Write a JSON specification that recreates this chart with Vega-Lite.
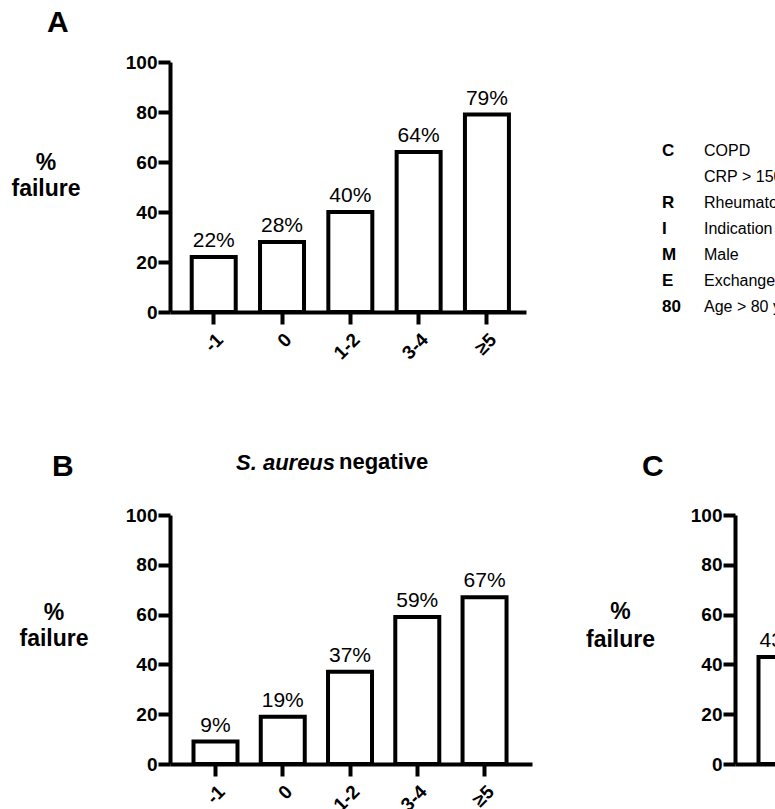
{
  "$schema": "https://vega.github.io/schema/vega-lite/v6.json",
  "padding": {"left": 10, "top": 8, "right": 0, "bottom": 0},
  "background": "white",
  "config": {
    "font": "Liberation Sans",
    "view": {"stroke": null},
    "axis": {
      "grid": false,
      "domainColor": "black",
      "domainWidth": 4,
      "tickColor": "black",
      "tickWidth": 4,
      "tickSize": 12,
      "labelColor": "black",
      "labelFont": "Liberation Sans",
      "labelFontWeight": "bold",
      "labelFontSize": 19,
      "titleColor": "black",
      "titleFont": "Liberation Sans"
    },
    "title": {"color": "black", "font": "Liberation Sans", "fontWeight": "bold"}
  },
  "datasets": {
    "A": [
      {"cat": "-1", "pct": 22, "label": "22%"},
      {"cat": "0", "pct": 28, "label": "28%"},
      {"cat": "1-2", "pct": 40, "label": "40%"},
      {"cat": "3-4", "pct": 64, "label": "64%"},
      {"cat": "≥5", "pct": 79, "label": "79%"}
    ],
    "B": [
      {"cat": "-1", "pct": 9, "label": "9%"},
      {"cat": "0", "pct": 19, "label": "19%"},
      {"cat": "1-2", "pct": 37, "label": "37%"},
      {"cat": "3-4", "pct": 59, "label": "59%"},
      {"cat": "≥5", "pct": 67, "label": "67%"}
    ],
    "C": [
      {"cat": "-1", "pct": 43, "label": "43%"}
    ],
    "legend": [
      {"line": 1, "key": "C", "desc": "COPD"},
      {"line": 2, "key": "", "desc": "CRP > 150 mg/L"},
      {"line": 3, "key": "R", "desc": "Rheumatoid arthritis"},
      {"line": 4, "key": "I", "desc": "Indication prosthesis: fracture"},
      {"line": 5, "key": "M", "desc": "Male"},
      {"line": 6, "key": "E", "desc": "Exchange of mobile components"},
      {"line": 7, "key": "80", "desc": "Age > 80 years"}
    ]
  },
  "spacing": 88,
  "vconcat": [
    {
      "spacing": 136,
      "hconcat": [
        {
          "title": {"text": "A", "anchor": "start", "frame": "group", "dx": -123, "fontSize": 30, "offset": 15},
          "width": 356,
          "height": 250,
          "data": {"name": "A"},
          "encoding": {
            "x": {
              "field": "cat", "type": "ordinal", "sort": null,
              "scale": {"domain": ["-1", "0", "1-2", "3-4", "≥5"], "paddingInner": 0.356, "paddingOuter": 0.284, "align": 0.56},
              "axis": {"title": null, "labelAngle": -45, "labelPadding": 6}
            },
            "y": {
              "field": "pct", "type": "quantitative",
              "scale": {"domain": [0, 100], "nice": false},
              "axis": {"values": [0, 20, 40, 60, 80, 100], "labelPadding": 1, "title": ["%", "failure"], "titleAngle": 0, "titleFontSize": 23, "titleFontWeight": "bold", "titleX": -124.5, "titleY": 100, "titleAlign": "center", "titleBaseline": "middle", "titleLineHeight": 26}
            }
          },
          "layer": [
            {"mark": {"type": "bar", "fill": "white", "stroke": "black", "strokeWidth": 4}},
            {"mark": {"type": "text", "baseline": "alphabetic", "dy": -10, "fontSize": 21, "color": "black"}, "encoding": {"text": {"field": "label"}}}
          ]
        },
        {
          "width": 42,
          "height": 250,
          "data": {"name": "legend"},
          "encoding": {
            "y": {"field": "line", "type": "quantitative", "scale": {"domain": [-2.42, 7.2], "reverse": true, "nice": false, "zero": false}, "axis": null}
          },
          "layer": [
            {
              "mark": {"type": "text", "align": "left", "baseline": "middle", "fontWeight": "bold", "fontSize": 17, "color": "black"},
              "encoding": {"x": {"datum": 0, "type": "quantitative", "scale": {"domain": [0, 1]}, "axis": null}, "text": {"field": "key"}}
            },
            {
              "mark": {"type": "text", "align": "left", "baseline": "middle", "fontSize": 16, "color": "black"},
              "encoding": {"x": {"datum": 1, "type": "quantitative", "scale": {"domain": [0, 1]}, "axis": null}, "text": {"field": "desc"}}
            }
          ]
        }
      ]
    },
    {
      "spacing": 53,
      "hconcat": [
        {
          "title": {"text": "B", "anchor": "start", "fontSize": 30, "dx": 33, "offset": -31},
          "vconcat": [
            {
              "title": {"text": "negative", "anchor": "start", "fontSize": 22, "dx": 320, "offset": -22},
              "vconcat": [
                {
                  "title": {"text": "S. aureus", "anchor": "start", "frame": "group", "dx": 66, "fontSize": 22, "fontStyle": "italic", "offset": 31},
                  "width": 362,
                  "height": 249,
                  "data": {"name": "B"},
                  "encoding": {
                    "x": {
                      "field": "cat", "type": "ordinal", "sort": null,
                      "scale": {"domain": ["-1", "0", "1-2", "3-4", "≥5"], "paddingInner": 0.346, "paddingOuter": 0.364, "align": 0.48},
                      "axis": {"title": null, "labelAngle": -45, "labelPadding": 6}
                    },
                    "y": {
                      "field": "pct", "type": "quantitative",
                      "scale": {"domain": [0, 100], "nice": false},
                      "axis": {"values": [0, 20, 40, 60, 80, 100], "labelPadding": 1, "title": ["%", "failure"], "titleAngle": 0, "titleFontSize": 23, "titleFontWeight": "bold", "titleX": -116.5, "titleY": 97, "titleAlign": "center", "titleBaseline": "middle", "titleLineHeight": 26}
                    }
                  },
                  "layer": [
                    {"mark": {"type": "bar", "fill": "white", "stroke": "black", "strokeWidth": 4}},
                    {"mark": {"type": "text", "baseline": "alphabetic", "dy": -10, "fontSize": 21, "color": "black"}, "encoding": {"text": {"field": "label"}}}
                  ]
                }
              ]
            }
          ]
        },
        {
          "title": {"text": "C", "anchor": "start", "frame": "group", "dx": -93, "fontSize": 30, "offset": 24},
          "width": 362,
          "height": 249,
          "data": {"name": "C"},
          "encoding": {
            "x": {
              "field": "cat", "type": "ordinal", "sort": null,
              "scale": {"domain": ["-1", "0", "1-2", "3-4", "≥5"], "paddingInner": 0.346, "paddingOuter": 0.364, "align": 0.48},
              "axis": {"title": null, "labelAngle": -45, "labelPadding": 6}
            },
            "y": {
              "field": "pct", "type": "quantitative",
              "scale": {"domain": [0, 100], "nice": false},
              "axis": {"values": [0, 20, 40, 60, 80, 100], "labelPadding": 1, "title": ["%", "failure"], "titleAngle": 0, "titleFontSize": 23, "titleFontWeight": "bold", "titleX": -115, "titleY": 96, "titleAlign": "center", "titleBaseline": "middle", "titleLineHeight": 28}
            }
          },
          "layer": [
            {"mark": {"type": "bar", "fill": "white", "stroke": "black", "strokeWidth": 4}},
            {"mark": {"type": "text", "baseline": "alphabetic", "dy": -10, "fontSize": 21, "color": "black"}, "encoding": {"text": {"field": "label"}}}
          ]
        }
      ]
    }
  ]
}
